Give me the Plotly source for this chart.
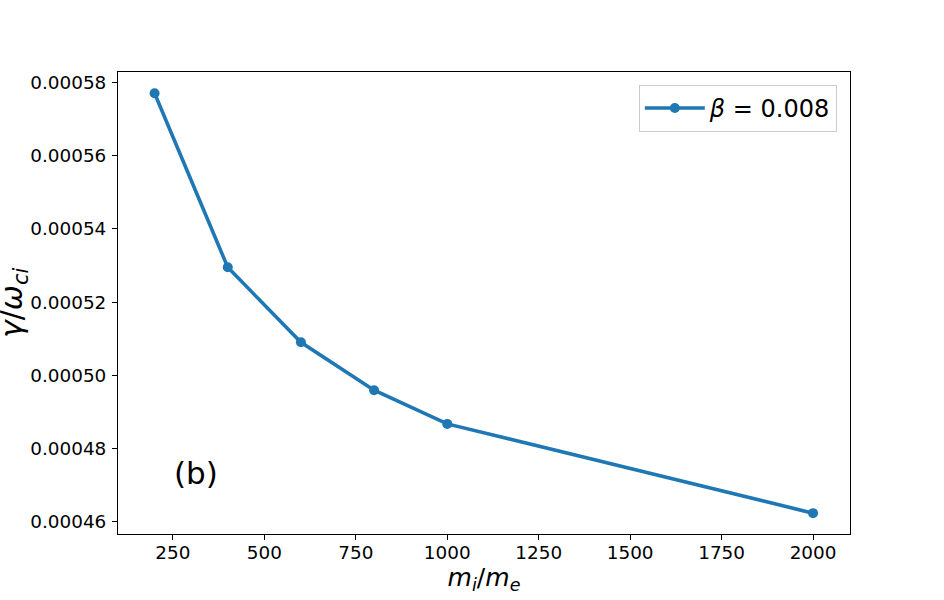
import plotly.graph_objects as go

mass_ratio = [200, 400, 600, 800, 1000, 2000]
growth_rate = [0.0005771, 0.0005295, 0.0005090, 0.0004959, 0.0004867, 0.0004623]
series_name = "<i>β</i> = 0.008"
x_ticks = [250, 500, 750, 1000, 1250, 1500, 1750, 2000]
y_ticks = [0.00046, 0.00048, 0.00050, 0.00052, 0.00054, 0.00056, 0.00058]
x_title = "<i>m<sub>i</sub></i>/<i>m<sub>e</sub></i>"
y_title = "<i>γ</i>/<i>ω<sub>ci</sub></i>"

fig = go.Figure()
fig.add_trace(go.Scatter(
    x=mass_ratio, y=growth_rate, mode="lines+markers", name=series_name,
    line=dict(color="#1f77b4", width=3.6),
    marker=dict(color="#1f77b4", size=10),
))

font = "DejaVu Sans"
fig.update_layout(
    width=944, height=600,
    margin=dict(l=118, r=94, t=72, b=66),
    paper_bgcolor="white", plot_bgcolor="white",
    font=dict(family=font, color="black", size=18.4),
    showlegend=True,
    legend=dict(x=0.982, y=0.972, xanchor="right", yanchor="top",
                bordercolor="#cccccc", borderwidth=1, bgcolor="rgba(255,255,255,0.8)",
                font=dict(size=24), itemwidth=60, tracegroupgap=0),
    xaxis=dict(range=[100, 2101], tickvals=x_ticks, ticks="outside", ticklen=5,
               tickcolor="black", showline=True, linecolor="black", linewidth=1,
               mirror=True, showgrid=False, zeroline=False, ticklabelstandoff=-3,
               automargin=False,
               title=dict(text=x_title, font=dict(size=25), standoff=4)),
    yaxis=dict(range=[0.0004566, 0.0005829], tickvals=y_ticks, tickformat=".5f",
               ticks="outside", ticklen=5, tickcolor="black", showline=True,
               linecolor="black", linewidth=1, mirror=True, showgrid=False, zeroline=False,
               ticklabelstandoff=2, automargin=False),
)
fig.add_annotation(x=(13 - 118) / 732, y=0.5, xref="paper", yref="paper", text=y_title,
                   textangle=-90, showarrow=False, xanchor="center", yanchor="middle",
                   font=dict(size=30, family=font, color="black"))
fig.add_annotation(x=314, y=0.0004733, xref="x", yref="y", text="(b)", showarrow=False,
                   font=dict(size=31, family=font, color="black"))

fig.write_html("out.html", config={"displayModeBar": False},
               post_script="document.body.style.margin='0px';")
